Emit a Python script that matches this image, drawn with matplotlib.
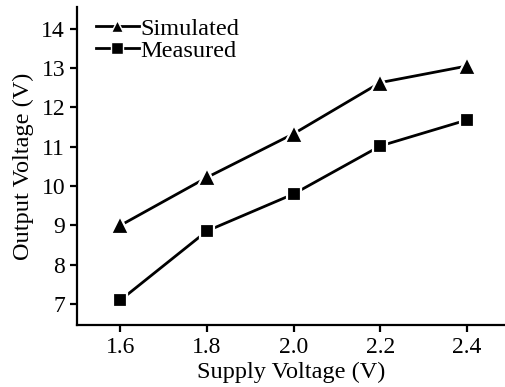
import matplotlib
matplotlib.use("Agg")
import matplotlib.pyplot as plt

supply = [1.6, 1.8, 2.0, 2.2, 2.4]
simulated = [9.0, 10.22, 11.33, 12.63, 13.05]
measured = [7.1, 8.86, 9.8, 11.02, 11.68]
xticks = [1.6, 1.8, 2.0, 2.2, 2.4]
yticks = [7, 8, 9, 10, 11, 12, 13, 14]

plt.rcParams['font.family'] = ['Liberation Serif', 'DejaVu Serif']
fig = plt.figure(figsize=(5.06, 3.87), dpi=100)
ax = fig.add_axes([0.152, 0.16, 0.848, 0.822])

ax.plot(supply, simulated, color='black', lw=2.0, marker='^', ms=12.5,
        mfc='black', mec='white', mew=1.6, label='Simulated')
ax.plot(supply, measured, color='black', lw=2.0, marker='s', ms=10.5,
        mfc='black', mec='white', mew=1.6, label='Measured')

ax.set_xlim(1.5, 2.49)
ax.set_ylim(6.47, 14.55)
ax.set_xticks(xticks)
ax.set_xticklabels([f"{v:.1f}" for v in xticks])
ax.set_yticks(yticks)
for s in ['top', 'right']:
    ax.spines[s].set_visible(False)
for s in ['left', 'bottom']:
    ax.spines[s].set_linewidth(1.6)
ax.tick_params(direction='out', length=5, width=1.6, labelsize=17)
ax.set_xlabel('Supply Voltage (V)', fontsize=17.5, labelpad=3)
ax.set_ylabel('Output Voltage (V)', fontsize=17.5, labelpad=5)

leg = ax.legend(loc='upper left', frameon=False, fontsize=17.5,
                handlelength=1.8, handletextpad=0.05, borderaxespad=0.3,
                borderpad=0.2, labelspacing=0.0, bbox_to_anchor=(0.015, 1.005))
for h in leg.legend_handles:
    h.set_markersize(8)
    h.set_markeredgecolor('white')
    h.set_markeredgewidth(1.0)

fig.savefig('out.png', dpi=100)
